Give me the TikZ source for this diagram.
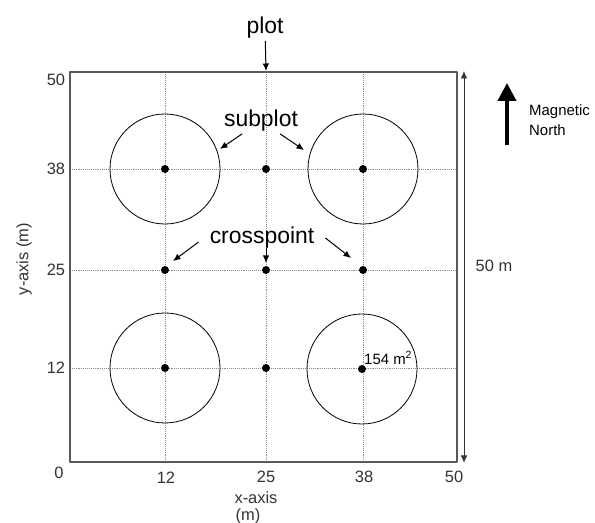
\documentclass[tikz,border=0pt]{standalone}
\usepackage{fontspec}
\setmainfont{Liberation Sans}
\usepackage{tikz}
\usetikzlibrary{positioning,arrows.meta}

\tikzset{
  dot/.style={circle,fill=black,inner sep=0pt,minimum size=8bp},
  bigtext/.style={font=\fontsize{23}{25}\selectfont,inner sep=2bp},
  ticktext/.style={font=\fontsize{16.5}{18}\selectfont,text=black!80,inner sep=1bp},
  smalltext/.style={font=\fontsize{15}{16}\selectfont,inner sep=1bp},
  gridline/.style={densely dotted,black!45,line width=0.9bp},
}

\begin{document}
\begin{tikzpicture}[>={Latex[length=7.5bp,width=6.5bp]},line join=bevel,]
\useasboundingbox (0bp,0bp) rectangle (595bp,523bp);
%% grid
\draw [gridline] (165bp,61bp) -- (165bp,451bp);
\draw [gridline] (266bp,61bp) -- (266bp,451bp);
\draw [gridline] (363bp,61bp) -- (363bp,451bp);
\draw [gridline] (70bp,354bp) -- (457bp,354bp);
\draw [gridline] (70bp,253bp) -- (457bp,253bp);
\draw [gridline] (70bp,155bp) -- (457bp,155bp);
%% plot border
\draw [black!65,line width=1.4bp] (70bp,61bp) rectangle (457bp,451bp);
\coordinate (plottop) at (266bp,452bp);
%% points
\node (d12-38) at (165bp,354bp) [dot] {};
  \node (d25-38) at (266bp,354bp) [dot] {};
  \node (d38-38) at (363bp,354bp) [dot] {};
  \node (d12-25) at (165bp,253bp) [dot] {};
  \node (d25-25) at (266bp,253bp) [dot] {};
  \node (d38-25) at (363bp,253bp) [dot] {};
  \node (d12-12) at (165bp,155bp) [dot] {};
  \node (d25-12) at (266bp,155bp) [dot] {};
  \node (d38-12) at (362bp,154bp) [dot] {};
%% subplots
\draw [black,line width=0.8bp] (d12-38) circle (55bp);
  \draw [black,line width=0.8bp] (d38-38) circle (55bp);
  \draw [black,line width=0.8bp] (d12-12) circle (55bp);
  \draw [black,line width=0.8bp] (d38-12) circle (55bp);
\node (area) at (363bp,165bp) [smalltext,anchor=west] {154 m\textsuperscript{2}};
%% labels
\node (plot) at (265bp,495bp) [bigtext] {plot};
  \node (subplot) at (261bp,402bp) [bigtext] {subplot};
  \node (crosspoint) at (262bp,285bp) [bigtext] {crosspoint};
  \coordinate (spleft) at (220bp,374bp);
  \coordinate (spright) at (304bp,373bp);
  \coordinate (cpleft) at (173bp,262bp);
  \coordinate (cpmid) at (266bp,260bp);
  \coordinate (cpright) at (351bp,265bp);
  \draw [black,->,line width=1bp] (plot) -- (plottop);
  \draw [black,->,line width=1bp] (subplot) -- (spleft);
  \draw [black,->,line width=1bp] (subplot) -- (spright);
  \draw [black,->,line width=1bp] ([xshift=-9bp,yshift=-4bp]crosspoint.west) -- (cpleft);
  \draw [black,->,line width=1bp] ([xshift=4bp,yshift=3bp]crosspoint.south) -- (cpmid);
  \draw [black,->,line width=1bp] ([xshift=9bp]crosspoint.east) -- (cpright);
%% axes
\node (y50) at (56bp,443bp) [ticktext] {50};
  \node (y38) at (56bp,354bp) [ticktext] {38};
  \node (y25) at (56bp,253bp) [ticktext] {25};
  \node (y12) at (56bp,155bp) [ticktext] {12};
  \node (y0) at (59bp,50bp) [ticktext] {0};
  \node (x12) at (166bp,45bp) [ticktext] {12};
  \node (x25) at (266bp,46bp) [ticktext] {25};
  \node (x38) at (364bp,46bp) [ticktext] {38};
  \node (x50) at (454bp,46bp) [ticktext] {50};
  \node (xaxis) at (256bp,25bp) [ticktext] {x-axis};
  \node (xunit) at (248bp,7bp) [ticktext] {(m)};
  \node (yaxis) at (24bp,264bp) [ticktext,rotate=90] {y-axis (m)};
%% side length
\coordinate (sidetop) at (464bp,452bp);
  \coordinate (sidebot) at (464bp,60bp);
  \draw [black!80,<->,line width=0.9bp] (sidetop) -- (sidebot);
  \node (side) at (494bp,257bp) [ticktext] {50 m};
%% north
\coordinate (northtail) at (507bp,378bp);
  \coordinate (northtip) at (507bp,440bp);
  \draw [black,-{Triangle[width=18bp,length=18bp]},line width=4bp] (northtail) -- (northtip);
  \node (magnetic) at (528bp,411bp) [smalltext,anchor=west] {Magnetic};
  \node (north) at (528bp,393bp) [smalltext,anchor=west] {North};
%
\end{tikzpicture}
\end{document}
